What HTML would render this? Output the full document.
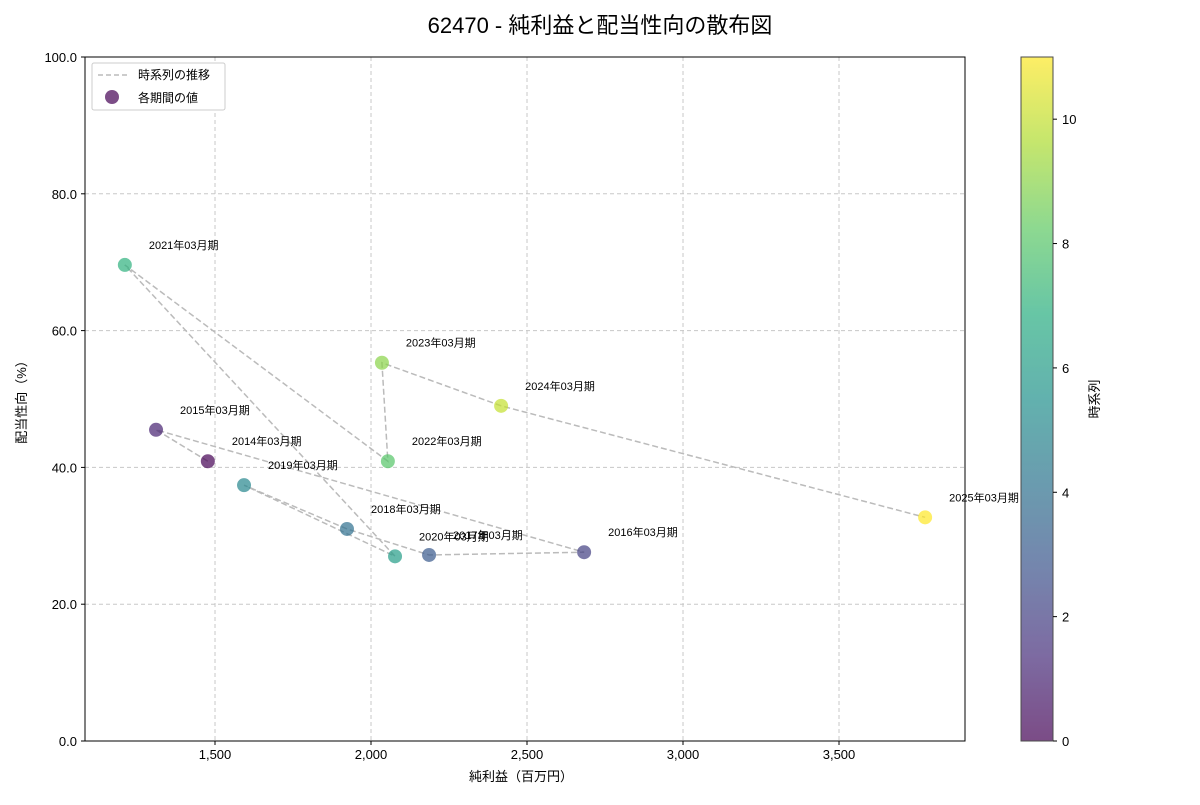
<!DOCTYPE html>
<html><head><meta charset="utf-8"><style>
body{margin:0;background:#fff;font-family:"Liberation Sans","Noto Sans CJK JP",sans-serif}
</style></head><body>
<svg id="chart" width="1200" height="800" xmlns="http://www.w3.org/2000/svg" font-family="Liberation Sans, Noto Sans CJK JP, sans-serif">
<defs><linearGradient id="vir" x1="0" y1="1" x2="0" y2="0">
<stop offset="0" stop-color="#440154"/><stop offset="0.125" stop-color="#472d7b"/><stop offset="0.25" stop-color="#3b528b"/><stop offset="0.375" stop-color="#2c728e"/><stop offset="0.5" stop-color="#21918c"/><stop offset="0.625" stop-color="#28ae80"/><stop offset="0.75" stop-color="#5ec962"/><stop offset="0.875" stop-color="#addc30"/><stop offset="1" stop-color="#fde725"/></linearGradient></defs>
<text x="600" y="33" text-anchor="middle" font-size="22" fill="#000">62470 - 純利益と配当性向の散布図</text>
<g id="grid"></g><g id="axes"></g><g id="series"></g>
<rect x="85" y="57" width="880" height="684" fill="none" stroke="#000" stroke-width="1"/>
<text x="521" y="781" text-anchor="middle" font-size="13">純利益（百万円）</text>
<text transform="translate(26,399) rotate(-90)" text-anchor="middle" font-size="13">配当性向（%）</text>
<g>
<rect x="92" y="63" width="133" height="47" fill="#fff" stroke="#ccc" rx="2"/>
<line x1="98" y1="75" x2="128" y2="75" stroke="#bbb" stroke-width="1.5" stroke-dasharray="5,3"/>
<text x="138" y="79" font-size="12">時系列の推移</text>
<circle cx="112" cy="97" r="7" fill="#440154" fill-opacity="0.7"/>
<text x="138" y="102" font-size="12">各期間の値</text></g>
<rect x="1021" y="57" width="32" height="684" fill="url(#vir)" opacity="0.7" stroke="#000"/>
<g id="cbticks"></g>
<text transform="translate(1099,399) rotate(-90)" text-anchor="middle" font-size="13">時系列</text>
</svg>
<script>
const labels=["2014年03月期","2015年03月期","2016年03月期","2017年03月期","2018年03月期","2019年03月期","2020年03月期","2021年03月期","2022年03月期","2023年03月期","2024年03月期","2025年03月期"];
const netIncome=[1477,1311,2683,2186,1923,1593,2077,1211,2054,2035,2417,3776];
const payout=[40.9,45.5,27.6,27.2,31.0,37.4,27.0,69.6,40.9,55.3,49.0,32.7];
const xTicks=[1500,2000,2500,3000,3500];
const yTicks=[0,20,40,60,80,100];
const cbTicks=[0,2,4,6,8,10];
const NS="http://www.w3.org/2000/svg";
const X0=85,X1=965,Y0=741,Y1=57,xMin=1083.3,xMax=3903.8;
const sx=v=>X0+(v-xMin)/(xMax-xMin)*(X1-X0);
const sy=v=>Y0-v/100*(Y0-Y1);
const vir=[[68,1,84],[71,45,123],[59,82,139],[44,114,142],[33,145,140],[40,174,128],[94,201,98],[173,220,48],[253,231,37]];
function col(t){const p=t*8,i=Math.min(7,Math.floor(p)),f=p-i;const a=vir[i],b=vir[i+1];return`rgb(${a.map((c,k)=>Math.round(c+(b[k]-c)*f)).join(',')})`;}
function mk(tag,at,parent){const e=document.createElementNS(NS,tag);for(const k in at)e.setAttribute(k,at[k]);document.getElementById(parent).appendChild(e);return e;}
xTicks.forEach(v=>{const x=sx(v);
const g=mk('line',{x1:x,x2:x,y1:Y1,y2:Y0,stroke:'#c8c8c8','stroke-dasharray':'4,3'},'grid');


mk('line',{x1:x,x2:x,y1:Y0,y2:Y0+4,stroke:'#000'},'axes');
const t=mk('text',{x:x,y:Y0+18,'text-anchor':'middle','font-size':13},'axes');t.textContent=v.toLocaleString('en-US');

});
yTicks.forEach(v=>{const y=sy(v);
const g=mk('line',{x1:X0,x2:X1,y1:y,y2:y,stroke:'#c8c8c8','stroke-dasharray':'4,3'},'grid');


mk('line',{x1:X0-4,x2:X0,y1:y,y2:y,stroke:'#000'},'axes');
const t=mk('text',{x:X0-8,y:y+5,'text-anchor':'end','font-size':13},'axes');t.textContent=v.toFixed(1);

});
cbTicks.forEach(v=>{const y=741-v/11*684;
mk('line',{x1:1053,x2:1057,y1:y,y2:y,stroke:'#000'},'cbticks');
const t=mk('text',{x:1062,y:y+5,'font-size':13},'cbticks');t.textContent=v;

});
const pts=netIncome.map((v,i)=>sx(v)+','+sy(payout[i])).join(' ');
const pl=mk('polyline',{points:pts,fill:'none',stroke:'#bbb','stroke-width':1.5,'stroke-dasharray':'6,3'},'series');


netIncome.forEach((v,i)=>{const x=sx(v),y=sy(payout[i]);
const c=mk('circle',{cx:x,cy:y,r:7,fill:col(i/11),'fill-opacity':0.7},'series');


const t=mk('text',{x:x+24,y:y-16,'font-size':11},'series');t.textContent=labels[i];

});
</script></body></html>
